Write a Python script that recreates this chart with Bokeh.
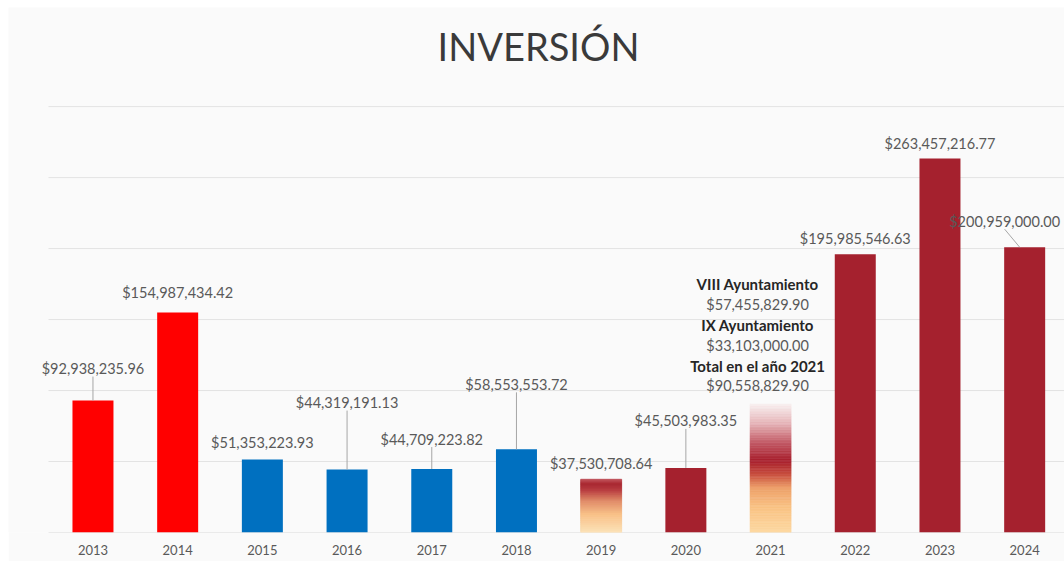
from bokeh.plotting import figure
from bokeh.models import Range1d, FixedTicker, ColumnDataSource
from bokeh.core.properties import value
from bokeh.embed import file_html
from bokeh.resources import INLINE

# ---------------- data ----------------
YEARS = [2013, 2014, 2015, 2016, 2017, 2018, 2019, 2020, 2021, 2022, 2023, 2024]
VALUES = [92938235.96, 154987434.42, 51353223.93, 44319191.13, 44709223.82,
          58553553.72, 37530708.64, 45503983.35, 90558829.90, 195985546.63,
          263457216.77, 200959000.00]
YEAR_LABELS = [str(y) for y in YEARS]
AYTO_NAMES = ["VIII Ayuntamiento", "IX Ayuntamiento", "Total en el año 2021"]
AYTO_VALUES = [57455829.90, 33103000.00, 90558829.90]
TITLE = "INVERSIÓN"

# ---------------- styles ----------------
RED = "#ff0000"
BLUE = "#0070c0"
DARK = "#a5212e"
FILL_STYLE = ["red", "red", "blue", "blue", "blue", "blue", "grad19", "dark",
              "grad21", "dark", "dark", "dark"]
SOLID = {"red": RED, "blue": BLUE, "dark": DARK}
GRADIENTS = {
    "grad19": [(0.0, "#fde3b8"), (0.35, "#f8bf86"), (0.6, "#e08a66"),
               (0.8, "#b83a3e"), (0.92, "#a8262f"), (1.0, "#c05058")],
    "grad21": [(0.0, "#fdd9a3"), (0.2, "#f9c283"), (0.35, "#eea06a"),
               (0.45, "#c9503f"), (0.56, "#a8202e"), (0.7, "#c25a66"),
               (0.85, "#e6b4b8"), (1.0, "#f8f0f0")],
}
GRID_VALUES = [50e6, 100e6, 150e6, 200e6, 250e6, 300e6]
LABEL_OFF_PX = [32, 20, 17, 67, 30, 65, 16, 47, 18, 16, 15, 26]
LABEL_DX_PX = [0, 0, 0, 0, 0, 0, 0, 0, -13, 0, 0, -20]
LEADER_MIN_PX = 22
BAR_W = 0.484
FONT = "Lato"
TXT = "#595959"
LABEL_SIZE = "14.5px"
BOLD_SIZE = "15px"

# frame geometry (frame spans the whole canvas width)
FRAME_W = 1056
FRAME_H = 525
PX_PER_YEAR = 84.7
GRID_X0 = 2012.475                      # where grid lines start (window x = 48)
X0 = GRID_X0 - 40 / PX_PER_YEAR         # frame left at window x = 8
X1 = X0 + FRAME_W / PX_PER_YEAR
Y1 = 369.8e6
PXY = FRAME_H / Y1          # px per unit value
PXX = PX_PER_YEAR           # px per year


def hex2rgb(h):
    h = h.lstrip("#")
    return tuple(int(h[i:i + 2], 16) for i in (0, 2, 4))


def interp(stops, t):
    for (t0, c0), (t1, c1) in zip(stops[:-1], stops[1:]):
        if t0 <= t <= t1:
            a = (t - t0) / (t1 - t0) if t1 > t0 else 0
            r0, r1 = hex2rgb(c0), hex2rgb(c1)
            return "#%02x%02x%02x" % tuple(int(round(r0[k] + (r1[k] - r0[k]) * a)) for k in range(3))
    return stops[-1][1]


p = figure(width=1056, height=554, output_backend="svg", toolbar_location=None,
           x_range=Range1d(X0, X1), y_range=Range1d(0, Y1),
           min_border_left=0, min_border_right=0, min_border_top=0,
           min_border_bottom=29)
p.margin = (7, 0, 0, 8)
p.background_fill_color = "#fafafa"
p.border_fill_color = "#fafafa"
p.outline_line_color = None
p.yaxis.visible = False
p.xgrid.visible = False
p.ygrid.visible = False

# horizontal grid lines (starting where the plot area starts)
p.segment(x0=[GRID_X0] * len(GRID_VALUES), y0=GRID_VALUES,
          x1=[X1] * len(GRID_VALUES), y1=GRID_VALUES,
          line_color="#e3e3e3", line_width=1)

ax = p.xaxis[0]
ax.ticker = FixedTicker(ticks=YEARS)
ax.major_label_overrides = {y: s for y, s in zip(YEARS, YEAR_LABELS)}
ax.major_tick_out = 0
ax.major_tick_in = 0
ax.minor_tick_out = 0
ax.minor_tick_in = 0
ax.axis_line_color = None
ax.major_label_text_font = FONT
ax.major_label_text_font_size = "13px"
ax.major_label_text_color = TXT
ax.major_label_standoff = 12

# baseline
p.segment(x0=[GRID_X0], y0=[0], x1=[X1], y1=[0], line_color="#d9d9d9",
          line_width=1)

# solid bars
solid = [(y, v, SOLID[s]) for y, v, s in zip(YEARS, VALUES, FILL_STYLE) if s in SOLID]
src = ColumnDataSource(dict(x=[a[0] for a in solid], top=[a[1] for a in solid],
                            color=[a[2] for a in solid]))
p.vbar(x="x", top="top", width=BAR_W, bottom=0, fill_color="color",
       line_color=None, source=src)

# gradient bars as stacked slices
N = 80
gl, gr, gb, gt, gc = [], [], [], [], []
for y, v, s in zip(YEARS, VALUES, FILL_STYLE):
    if s in GRADIENTS:
        for i in range(N):
            gl.append(y - BAR_W / 2)
            gr.append(y + BAR_W / 2)
            gb.append(v * i / N)
            gt.append(v * (i + 1) / N)
            gc.append(interp(GRADIENTS[s], (i + 0.5) / N))
p.quad(left=gl, right=gr, bottom=gb, top=gt, fill_color=gc, line_color=gc,
       line_width=0.6)

# value labels
lx, ly, lt, loff, ldx = [], [], [], [], []
sx0, sy0, sx1, sy1 = [], [], [], []
for y, v, s, off, dx in zip(YEARS, VALUES, FILL_STYLE, LABEL_OFF_PX, LABEL_DX_PX):
    if y == 2021:
        continue
    lx.append(y)
    ly.append(v)
    lt.append(f"${v:,.2f}")
    loff.append(-off)
    ldx.append(dx)
    if off > LEADER_MIN_PX:
        sx0.append(y + dx / PXX)
        sy0.append(v + (off - 8) / PXY)
        sx1.append(y + dx * 0.25 / PXX)
        sy1.append(v)

p.segment(x0=sx0, y0=sy0, x1=sx1, y1=sy1, line_color="#a6a6a6", line_width=1)
p.text(x=lx, y=ly, text=lt, x_offset=ldx, y_offset=loff, text_align="center",
       text_baseline="middle", text_font=value(FONT), text_font_size=LABEL_SIZE,
       text_color=TXT)

# 2021 multi-line annotation
i21 = YEARS.index(2021)
base_off = LABEL_OFF_PX[i21]
dx21 = LABEL_DX_PX[i21]
line_gap = 20.4
rows = []
for name, val in zip(AYTO_NAMES, AYTO_VALUES):
    rows.append((name, "bold", "#262626", BOLD_SIZE))
    rows.append((f"${val:,.2f}", "normal", TXT, LABEL_SIZE))
nrows = len(rows)
for j, (t, st, col, sz) in enumerate(rows):
    off = base_off + (nrows - 1 - j) * line_gap
    p.text(x=[YEARS[i21]], y=[VALUES[i21]], text=[t], x_offset=dx21,
           y_offset=-off, text_align="center", text_baseline="middle",
           text_font=value(FONT), text_font_size=sz, text_font_style=st,
           text_color=col)

# title
TITLE_X = GRID_X0 + (538 - 48) / PXX
TITLE_Y = (532 - 45) / PXY
p.text(x=[TITLE_X], y=[TITLE_Y], text=[TITLE], text_align="center",
       text_baseline="alphabetic", text_font=value(FONT), text_font_size="38px",
       text_color="#3a3a3a")

open("out.html", "w").write(file_html(p, INLINE))
